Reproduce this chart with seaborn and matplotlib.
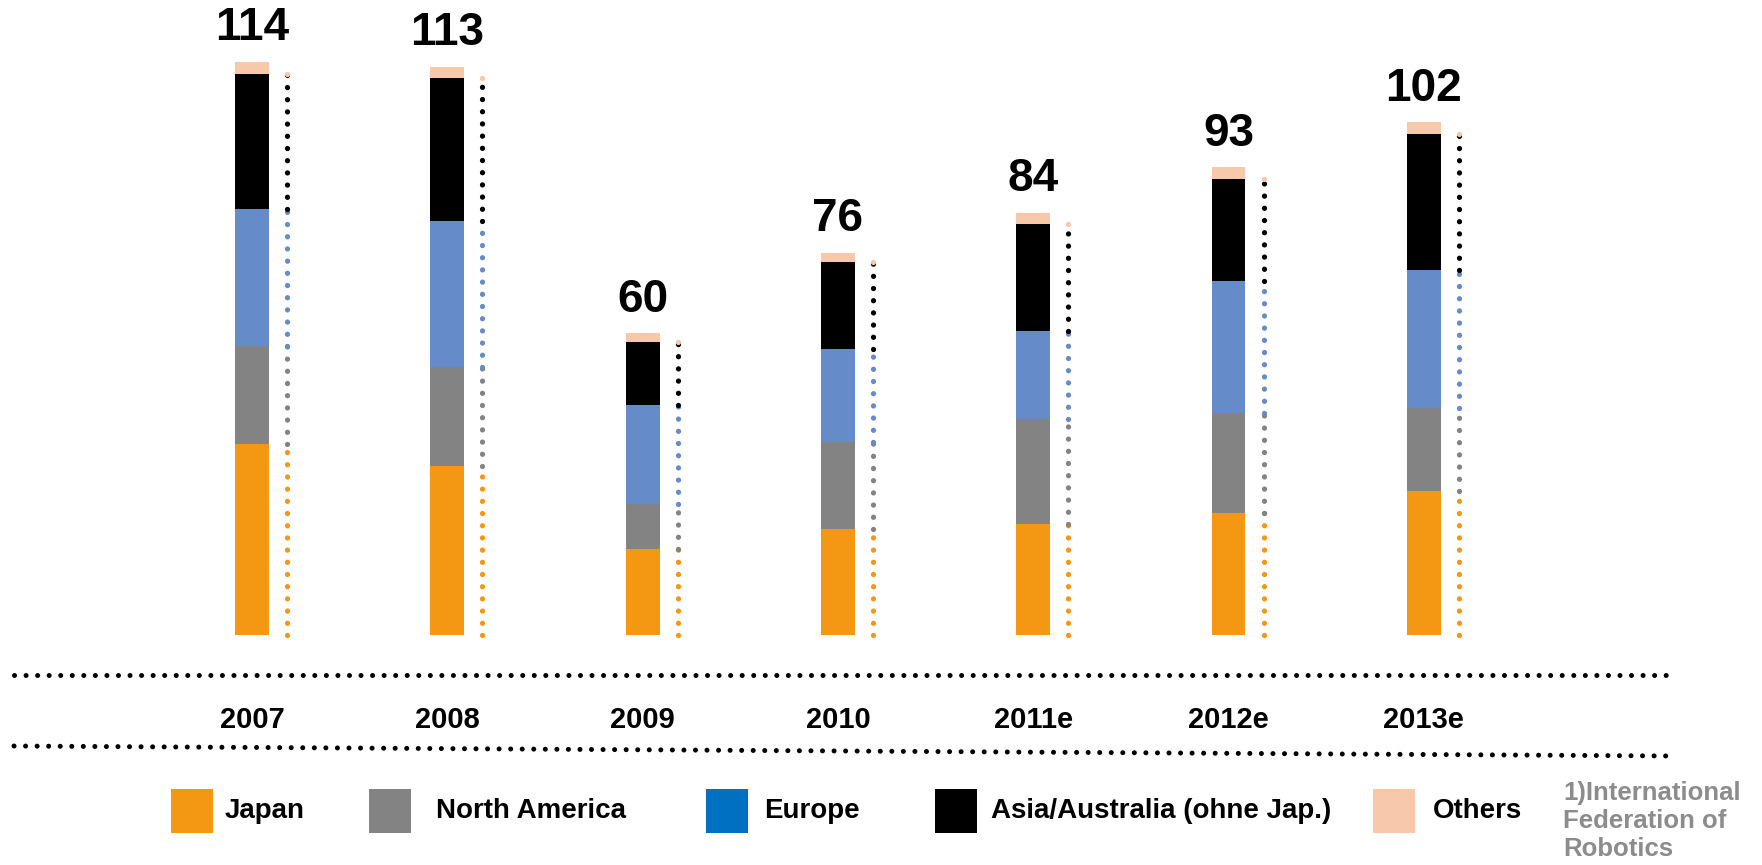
import matplotlib
matplotlib.use("Agg")
import matplotlib.pyplot as plt
import seaborn as sns
import pandas as pd
from matplotlib.patches import Rectangle

# data
years = ["2007", "2008", "2009", "2010", "2011e", "2012e", "2013e"]
japan = [38.0, 33.6, 17.1, 21.0, 22.0, 24.2, 28.6]
north_america = [19.4, 19.7, 9.0, 17.3, 21.0, 20.0, 16.5]
europe = [27.3, 29.1, 19.6, 18.5, 17.5, 26.1, 27.5]
asia = [26.9, 28.3, 12.5, 17.3, 21.2, 20.4, 27.0]
others = [2.4, 2.2, 1.8, 1.9, 2.2, 2.3, 2.4]
totals = [114, 113, 60, 76, 84, 93, 102]

series_names = ["Japan", "North America", "Europe",
                "Asia/Australia (ohne Jap.)", "Others"]
series_vals = [japan, north_america, europe, asia, others]
bar_colors = ["#F49712", "#838383", "#658CC8", "#000000", "#F8C8AA"]
legend_colors = ["#F49712", "#838383", "#0070C0", "#000000", "#F8C8AA"]
footnote = "1)International\nFederation of\nRobotics"

sns.set_style("white")
plt.rcParams["font.family"] = ["Liberation Sans", "DejaVu Sans"]
plt.rcParams["font.weight"] = "bold"
plt.rcParams["text.color"] = "black"

W, H = 1762, 865
fig = plt.figure(figsize=(W / 100, H / 100), dpi=100)
ax = fig.add_axes([0, 0, 1, 1])

df = pd.DataFrame({"year": years})
for name, vals in zip(series_names, series_vals):
    df[name] = vals
cum = df[series_names].cumsum(axis=1)

bar_w = 0.174
# stacked bars: draw the cumulative heights from the top segment down
for name, col in reversed(list(zip(series_names, bar_colors))):
    sns.barplot(x=df["year"], y=cum[name], color=col,
                saturation=1, width=bar_w, ax=ax, linewidth=0)

# dotted companion lines beside each bar, one colour per segment
dx = 0.18
for i in range(len(years)):
    lo = 0
    for name, col in zip(series_names, bar_colors):
        hi = cum.loc[i, name]
        ax.plot([i + dx, i + dx], [lo, hi], color=col, linewidth=3.8,
                linestyle=(0, (0.01, 2.3)), dash_capstyle="round")
        lo = hi

# total labels
for i, t in enumerate(totals):
    ax.annotate(str(t), (i, t), xytext=(0, 24), textcoords="offset points",
                ha="center", va="center", fontsize=33, fontweight="bold")

# axis mapping: baseline at 635 px from top, 5.03 px per unit
ppu = 5.03
ax.set_ylim(-(H - 635) / ppu, 635 / ppu)
xpx = 195.3
ax.set_xlim(-252 / xpx, (W - 252) / xpx)
ax.axis("off")

# year labels under bars
for i, y in enumerate(years):
    ax.text(i, 1 - 720 / H, y, transform=ax.get_xaxis_transform(),
            ha="center", va="center", fontsize=21, fontweight="bold")

# overlay in pixel coords for the decorations
ov = fig.add_axes([0, 0, 1, 1], facecolor="none")
ov.set_xlim(0, W)
ov.set_ylim(H, 0)
ov.axis("off")
for (x0, y0, x1, y1) in [(14, 675, 1674, 675), (14, 746, 1674, 756)]:
    ov.plot([x0, x1], [y0, y1], color="black", linewidth=3.6,
            linestyle=(0, (0.01, 2.3)), dash_capstyle="round")

patch_x = [171, 369, 706, 935, 1373]
text_x = [225, 436, 764, 991, 1433]
for px, tx, name, col in zip(patch_x, text_x, series_names, legend_colors):
    ov.add_patch(Rectangle((px, 789), 42, 44, color=col, lw=0))
    ov.text(tx, 811, name, ha="left", va="center", fontsize=20,
            fontweight="bold")
ov.text(1563, 821, footnote, ha="left", va="center", fontsize=18.5,
        fontweight="bold", color="#8C8C8C", linespacing=1.2)

fig.savefig("out.png", dpi=100)
